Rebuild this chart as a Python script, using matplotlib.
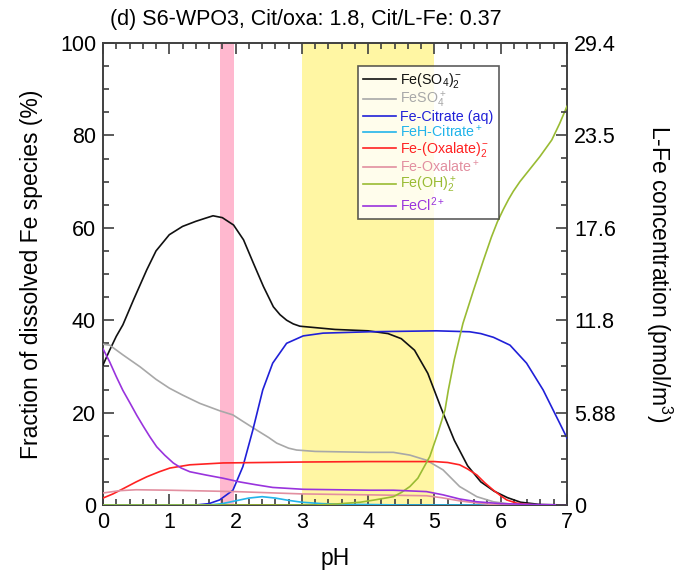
import matplotlib
matplotlib.use("Agg")
import matplotlib.pyplot as plt
from matplotlib.ticker import MultipleLocator, FixedLocator

plt.rcParams['font.family'] = ['Liberation Sans', 'DejaVu Sans']
plt.rcParams['mathtext.fontset'] = 'custom'
plt.rcParams['mathtext.rm'] = 'Liberation Sans'
plt.rcParams['mathtext.it'] = 'Liberation Sans:italic'
plt.rcParams['mathtext.bf'] = 'Liberation Sans:bold'
plt.rcParams['mathtext.default'] = 'regular'

# ---------------- data ----------------
title = "(d) S6-WPO3, Cit/oxa: 1.8, Cit/L-Fe: 0.37"
xlabel = "pH"
ylabel_left = "Fraction of dissolved Fe species (%)"
ylabel_right = "L-Fe concentration (pmol/m$^3$)"
right_ticks = [0, 5.88, 11.76, 17.64, 23.52, 29.4]
right_ticklabels = ["0", "5.88", "11.8", "17.6", "23.5", "29.4"]
right_max = 29.4
pink_band = (1.77, 1.97)
yellow_band = (3.0, 5.0)

labels = ['Fe(SO$_4$)$_2^-$', 'FeSO$_4^+$', 'Fe-Citrate (aq)', 'FeH-Citrate$^+$',
          'Fe-(Oxalate)$_2^-$', 'Fe-Oxalate$^+$', 'Fe(OH)$_2^+$', 'FeCl$^{2+}$']
colors = ['#111111', '#a8a8a8', '#2020d8', '#22b4ea', '#ff2222', '#e28fa0', '#99bb33', '#9933dd']

feso42_x = [0, 0.1, 0.2, 0.3, 0.46, 0.66, 0.8, 1.0, 1.2, 1.4, 1.55, 1.66, 1.8, 1.97, 2.12,
            2.27, 2.42, 2.57, 2.67, 2.77, 2.87, 2.97, 3.5, 4.0, 4.3, 4.5, 4.7, 4.9, 5.1, 5.3,
            5.5, 5.7, 5.9, 6.1, 6.3, 6.6, 7.0]
feso42_y = [30.3, 33.5, 36.5, 39.0, 44.4, 50.9, 55.0, 58.5, 60.3, 61.4, 62.1, 62.6, 62.2,
            60.6, 57.4, 52.3, 47.3, 42.9, 41.2, 40.0, 39.2, 38.7, 38.0, 37.7, 37.1, 36.0,
            33.5, 28.5, 21.0, 14.0, 8.5, 5.0, 3.0, 1.6, 0.6, 0.1, 0.0]

feso4_x = [0, 0.1, 0.3, 0.56, 0.8, 1.0, 1.2, 1.46, 1.76, 1.96, 2.1, 2.32, 2.5, 2.62, 2.8, 2.92,
           3.2, 3.6, 4.0, 4.38, 4.63, 4.88, 5.13, 5.38, 5.64, 5.89, 6.2, 7.0]
feso4_y = [34.8, 34.6, 32.5, 29.9, 27.2, 25.3, 23.8, 22.0, 20.4, 19.5, 18.2, 16.2, 14.6, 13.4,
           12.3, 11.9, 11.6, 11.5, 11.4, 11.4, 10.8, 9.7, 7.6, 4.0, 1.8, 0.7, 0.1, 0.0]

fecit_x = [0, 1.4, 1.6, 1.76, 1.96, 2.11, 2.26, 2.41, 2.56, 2.77, 3.02, 3.32, 4.03, 5.03, 5.53,
           5.7, 5.89, 6.14, 6.39, 6.64, 6.89, 7.0]
fecit_y = [0, 0.0, 0.3, 1.1, 3.2, 8.3, 16.2, 24.9, 30.7, 35.0, 36.6, 37.2, 37.5, 37.7, 37.5,
           37.1, 36.3, 34.6, 30.7, 24.9, 17.7, 14.5]

fehcit_x = [0, 1.6, 1.8, 2.0, 2.2, 2.4, 2.6, 2.8, 3.0, 3.3, 3.6, 4.0, 4.5, 7.0]
fehcit_y = [0, 0.0, 0.3, 0.9, 1.5, 1.8, 1.5, 1.0, 0.6, 0.3, 0.15, 0.1, 0.0, 0.0]

feox2_x = [0, 0.15, 0.3, 0.5, 0.66, 0.85, 1.01, 1.31, 1.81, 3.0, 4.0, 5.0, 5.2, 5.38, 5.5,
           5.64, 5.76, 5.89, 6.0, 6.09, 6.24, 6.5, 7.0]
feox2_y = [1.5, 2.4, 3.5, 5.0, 6.1, 7.2, 8.0, 8.7, 9.1, 9.3, 9.4, 9.4, 9.2, 8.7, 7.8,
           6.5, 4.8, 3.2, 2.0, 1.1, 0.4, 0.0, 0.0]

feox_x = [0, 0.25, 0.5, 1.0, 2.0, 3.0, 4.0, 4.88, 5.1, 5.38, 5.6, 5.8, 6.2, 7.0]
feox_y = [2.6, 3.1, 3.3, 3.2, 2.9, 2.4, 2.2, 2.0, 1.6, 0.9, 0.5, 0.2, 0.0, 0.0]

feoh2_x = [0, 3.2, 3.5, 3.88, 4.1, 4.38, 4.5, 4.63, 4.75, 4.93, 5.05, 5.16, 5.21, 5.3, 5.43,
           5.59, 5.74, 5.86, 5.95, 6.04, 6.12, 6.19, 6.29, 6.39, 6.59, 6.77, 6.89, 7.0]
feoh2_y = [0, 0.0, 0.2, 0.6, 1.1, 1.8, 2.7, 4.0, 5.8, 10.5, 15.5, 20.6, 24.9, 31.5, 39.3,
           46.5, 53.0, 58.0, 61.3, 64.0, 66.2, 67.9, 70.0, 71.8, 75.4, 79.0, 82.6, 86.3]

fecl_x = [0, 0.1, 0.2, 0.3, 0.41, 0.51, 0.61, 0.71, 0.81, 0.93, 1.06, 1.18, 1.31, 1.55, 1.81,
          2.06, 2.3, 2.56, 3.02, 4.03, 4.38, 4.88, 5.13, 5.38, 5.64, 6.0, 6.5, 7.0]
fecl_y = [33.8, 31.0, 27.8, 24.8, 22.0, 19.4, 17.0, 14.7, 12.6, 10.8, 9.1, 8.0, 7.2, 6.5, 5.8,
          5.0, 4.4, 3.8, 3.4, 3.2, 3.2, 2.9, 2.2, 1.3, 0.7, 0.3, 0.1, 0.0]

series_x = [feso42_x, feso4_x, fecit_x, fehcit_x, feox2_x, feox_x, feoh2_x, fecl_x]
series_y = [feso42_y, feso4_y, fecit_y, fehcit_y, feox2_y, feox_y, feoh2_y, fecl_y]

# ---------------- plot ----------------
fig = plt.figure(figsize=(6.77, 5.71), dpi=100)
ax = fig.add_axes([103/677, 1 - 505/571, (567-103)/677, (505-43)/571])

spine_col = '#404040'
ax.axvspan(*pink_band, color='#ffb8cf', lw=0, zorder=0)
ax.axvspan(*yellow_band, color='#fff6a3', lw=0, zorder=0)

lines = {}
for i in range(8):
    l, = ax.plot(series_x[i], series_y[i], color=colors[i], lw=1.2, label=labels[i], zorder=3)
    lines[i] = l

ax.set_xlim(0, 7)
ax.set_ylim(0, 100)
ax.xaxis.set_major_locator(MultipleLocator(1))
ax.xaxis.set_minor_locator(MultipleLocator(0.2))
ax.yaxis.set_major_locator(MultipleLocator(20))
ax.yaxis.set_minor_locator(MultipleLocator(5))
ax.tick_params(which='both', direction='in', top=True, right=False, colors=spine_col,
               labelcolor='black', labelsize=15.5, width=1.2)
ax.tick_params(which='major', length=8, pad=5)
ax.tick_params(which='minor', length=4.5)
for s in ax.spines.values():
    s.set_color(spine_col)
    s.set_linewidth(1.4)

ax2 = ax.twinx()
ax2.set_ylim(0, right_max)
ax2.yaxis.set_major_locator(FixedLocator(right_ticks))
ax2.set_yticklabels(right_ticklabels)
ax2.yaxis.set_minor_locator(MultipleLocator(right_max / 20))
ax2.tick_params(which='both', direction='in', colors=spine_col, labelcolor='black',
                labelsize=15.5, width=1.2)
ax2.tick_params(which='major', length=8, pad=5)
ax2.tick_params(which='minor', length=4.5)
for s in ax2.spines.values():
    s.set_visible(False)

ax.set_xlabel(xlabel, fontsize=16.5, labelpad=10)
ax.set_ylabel(ylabel_left, fontsize=16.5, labelpad=12)
ax2.set_ylabel(ylabel_right, fontsize=16.5, rotation=270, labelpad=42)

fig.text(110/677, 1 - 20/571, title, fontsize=15.5, ha='left', va='center')

leg = ax.legend(handles=[lines[i] for i in range(8)], loc='upper left',
                bbox_to_anchor=((358-103)/464, (505-66)/462), fontsize=10.3,
                labelcolor='linecolor', frameon=True, fancybox=False,
                handlelength=2.3, handletextpad=0.3, labelspacing=0.0,
                borderpad=0.35, borderaxespad=0)
leg.get_frame().set_edgecolor('#333333')
leg.get_frame().set_linewidth(1.2)
leg.set_zorder(5)

fig.savefig('out.png', dpi=100)
